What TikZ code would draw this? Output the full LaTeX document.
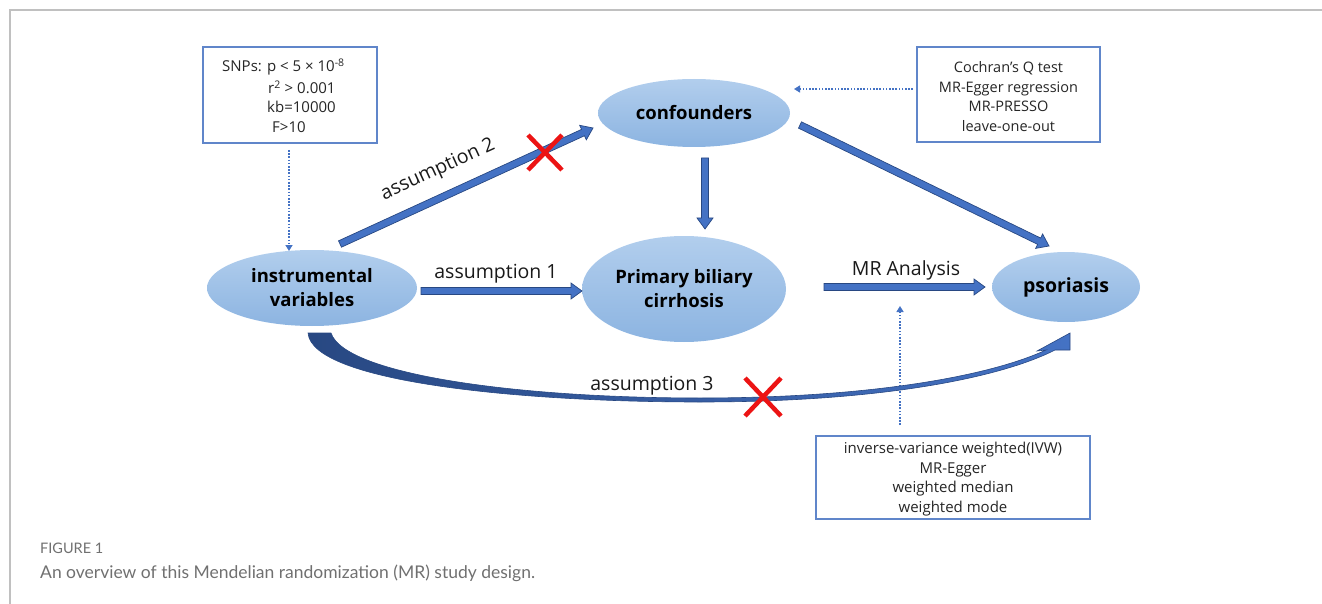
\documentclass[tikz,border=0pt]{standalone}
\usepackage{fontspec}
\setmainfont{Open Sans}
\newfontfamily\capfont{Lato}
\usetikzlibrary{shapes.geometric,arrows.meta,calc}
\definecolor{ellA}{RGB}{178,206,237}
\definecolor{ellB}{RGB}{140,180,225}
\definecolor{arrB}{RGB}{68,114,196}
\definecolor{arrD}{RGB}{40,72,130}
\definecolor{boxB}{RGB}{96,134,202}
\definecolor{frameG}{RGB}{192,192,192}
\definecolor{capG}{RGB}{112,112,112}
\definecolor{xred}{RGB}{236,20,20}
\newcommand\blockarr[2]{%
  \coordinate (tmpH) at ($(#2)!11pt!(#1)$);
  \path[blockarrow] ($(#1)!3.5pt!90:(#2)$) -- ($(tmpH)!3.5pt!90:(#2)$) -- ($(tmpH)!8pt!90:(#2)$)
    -- (#2) -- ($(tmpH)!8pt!-90:(#2)$) -- ($(tmpH)!3.5pt!-90:(#2)$) -- ($(#1)!3.5pt!-90:(#2)$) -- cycle;}
\begin{document}
\begin{tikzpicture}[x=1pt,y=-1pt,
  ell/.style={ellipse, inner sep=0pt, top color=ellA, bottom color=ellB, draw=none,
    align=center, font=\bfseries\fontsize{18.5}{24}\selectfont},
  txtbox/.style={draw=boxB, line width=1.3pt, fill=white, inner sep=0pt},
  boxtext/.style={align=center, inner sep=0pt, font=\fontsize{14.5}{19.7}\selectfont, text=black!85},
  arrlabel/.style={inner sep=0pt, font=\fontsize{19.5}{22}\selectfont, text=black!90},
  blockarrow/.style={fill=arrB, draw=arrD, line width=0.7pt, line join=miter},
  dotarrow/.style={draw=arrB, line width=1.6pt, dash pattern=on 1.6pt off 1.6pt,
    -{Triangle[length=6pt,width=7pt]}},
  redx/.style={draw=xred, line width=4.5pt}]
\useasboundingbox (0,0) rectangle (1322,604);
% frame
\draw[frameG, line width=1.3pt] (10,604) -- (10,10) -- (1322,10);
% ellipses
\node[ell, minimum width=210pt, minimum height=76pt] (iv) at (312,288) {instrumental\\variables};
\node[ell, minimum width=192pt, minimum height=68pt] (conf) at (694,113) {confounders};
\node[ell, minimum width=204pt, minimum height=106pt] (pbc) at (684,289) {Primary biliary\\cirrhosis};
\node[ell, minimum width=148pt, minimum height=70pt, font=\bfseries\fontsize{19.5}{24}\selectfont] (pso) at (1066,287) {psoriasis};
% boxes
\node[txtbox, minimum width=174pt, minimum height=96pt] (snp) at (290,95) {};
\node[boxtext, anchor=west, font=\fontsize{15}{19}\selectfont] (snp1) at (222,67) {SNPs: p < 5 × 10\textsuperscript{-8}};
\node[boxtext, anchor=west, font=\fontsize{15}{19}\selectfont] (snp2) at (268,87) {r\textsuperscript{2} > 0.001};
\node[boxtext, anchor=west, font=\fontsize{15}{19}\selectfont] (snp3) at (267,107) {kb=10000};
\node[boxtext, anchor=west, font=\fontsize{15}{19}\selectfont] (snp4) at (272,127) {F>10};
\node[txtbox, minimum width=183pt, minimum height=95pt] (rbox) at (1008.5,94.5) {};
\node[boxtext] (rtext) at (1008.5,96.5) {Cochran's Q test\\MR-Egger regression\\MR-PRESSO\\leave-one-out};
\node[txtbox, minimum width=274pt, minimum height=83pt] (bbox) at (953,477.5) {};
\node[boxtext, font=\fontsize{15}{19.6}\selectfont] (btext) at (953,479) {inverse-variance weighted(IVW)\\MR-Egger\\weighted median\\weighted mode};
% connector end points
\coordinate (a1s) at (421,291); \coordinate (a1e) at (582,291);
\coordinate (mrs) at (824,287); \coordinate (mre) at (985,287);
\coordinate (a2s) at (340,244); \coordinate (a2e) at (593,128);
\coordinate (cps) at (705,158); \coordinate (cpe) at (705,229);
\coordinate (cqs) at (800,125); \coordinate (cqe) at (1049,246);
\coordinate (snpout) at (289,150); \coordinate (ivin) at (289,251);
\coordinate (rout) at (913,89); \coordinate (confin) at (794,89);
\coordinate (bout) at (900,425); \coordinate (mrin) at (900,306);
% block arrows
\blockarr{a1s}{a1e}
\blockarr{mrs}{mre}
\blockarr{a2s}{a2e}
\blockarr{cps}{cpe}
\blockarr{cqs}{cqe}
% dotted arrows
\draw[dotarrow] (snpout) -- (ivin);
\draw[dotarrow] (rout) -- (confin);
\draw[dotarrow] (bout) -- (mrin);
% assumption 3 curved arrow
\path[left color=arrD, right color=arrB, draw=arrD, line width=0.6pt, line join=miter]
  (308,333) .. controls (312,382) and (520,402) .. (700,402)
  .. controls (880,402) and (1000,378) .. (1055,350)
  -- (1070,350) -- (1070,333) -- (1037,351) -- (1046,350)
  .. controls (990,376) and (870,398) .. (700,398)
  .. controls (520,398) and (345,375) .. (331,333) -- cycle;
% labels
\node[arrlabel] (l1) at (496,274) {assumption 1};
\node[arrlabel] (lmr) at (906,270) {MR Analysis};
\node[arrlabel, rotate=24.7] (l2) at (438,170) {assumption 2};
\node[arrlabel] (l3) at (652,386) {assumption 3};
% red crosses
\draw[redx] (528,135) -- (562,170) (562,135) -- (528,170);
\draw[redx] (745,378) -- (781,416) (781,378) -- (745,416);
% caption
\node[anchor=base west, inner sep=0pt, font=\capfont\fontsize{14.5}{16}\selectfont, text=capG] (fig) at (40,553) {FIGURE 1};
\node[anchor=base west, inner sep=0pt, font=\capfont\fontsize{17.5}{20}\selectfont, text=capG] (cap) at (40,578) {An overview of this Mendelian randomization (MR) study design.};
\end{tikzpicture}
\end{document}
